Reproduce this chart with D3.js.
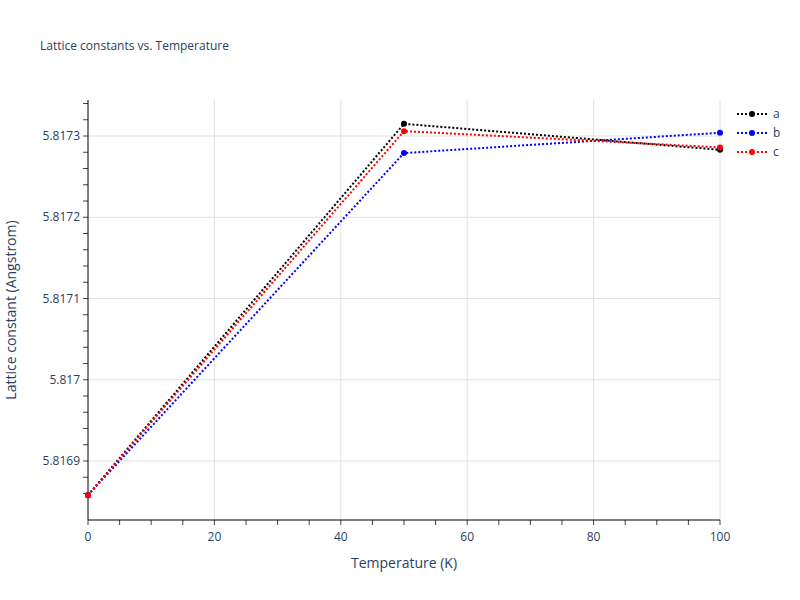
<!DOCTYPE html>
<html>
<head>
<meta charset="utf-8">
<script src="https://cdn.jsdelivr.net/npm/d3@7"></script>
<style>body{margin:0;background:#fff}text{font-family:"Open Sans",sans-serif}</style>
</head>
<body>
<svg width="800" height="600"></svg>
<script>
var temps = [0, 50, 100]
var seriesNames = ['a', 'b', 'c']
var seriesColors = ['black', 'blue', 'red']
var aVals = [5.816858, 5.817315, 5.817283]
var bVals = [5.816858, 5.817279, 5.817304]
var cVals = [5.816858, 5.817306, 5.817286]
var xTicks = [0, 20, 40, 60, 80, 100]
var yTicks = [5.8169, 5.817, 5.8171, 5.8172, 5.8173]
var yTickLabels = ['5.8169', '5.817', '5.8171', '5.8172', '5.8173']

var svg = d3.select('svg')
var pLeft = 88, pRight = 720, pTop = 100, pBottom = 520
var x = d3.scaleLinear().domain([0, 100]).range([pLeft, pRight])
var y = d3.scaleLinear().domain([5.8169, 5.8173]).range([461, 136])

var grid = svg.append('g')
grid.selectAll('.gy').data(yTicks).enter().append('line')
  .attr('x1', pLeft).attr('x2', pRight).attr('y1', d => y(d)).attr('y2', d => y(d))
  .attr('stroke', '#e0e0e0')
grid.selectAll('.gx').data(xTicks.slice(1)).enter().append('line')
  .attr('y1', pTop).attr('y2', pBottom).attr('x1', d => x(d)).attr('x2', d => x(d))
  .attr('stroke', '#e0e0e0')

// minor ticks
var xMinor = d3.range(0, 101, 5)
svg.append('g').selectAll('line').data(xMinor).enter().append('line')
  .attr('x1', d => x(d)).attr('x2', d => x(d)).attr('y1', pBottom).attr('y2', pBottom + 5)
  .attr('stroke', '#444')
var yMinor = d3.range(-2, 24).map(i => 5.8169 + i * 0.00002).filter(v => y(v) > pTop && y(v) < pBottom)
svg.append('g').selectAll('line').data(yMinor).enter().append('line')
  .attr('y1', d => y(d)).attr('y2', d => y(d)).attr('x1', pLeft - 5).attr('x2', pLeft)
  .attr('stroke', '#444')

svg.append('line').attr('x1', pLeft).attr('x2', pLeft).attr('y1', pTop).attr('y2', pBottom).attr('stroke', '#000')
svg.append('line').attr('x1', pLeft).attr('x2', pRight).attr('y1', pBottom).attr('y2', pBottom).attr('stroke', '#000')

svg.append('g').selectAll('text').data(xTicks).enter().append('text')
  .attr('x', d => x(d)).attr('y', pBottom + 21).attr('text-anchor', 'middle')
  .attr('font-size', 12).attr('fill', '#2a3f5f').text(d => d)
svg.append('g').selectAll('text').data(yTicks).enter().append('text')
  .attr('x', pLeft - 8).attr('y', d => y(d) + 4).attr('text-anchor', 'end')
  .attr('font-size', 12).attr('fill', '#2a3f5f').text((d, i) => yTickLabels[i])

svg.append('text').attr('x', 404).attr('y', 568).attr('text-anchor', 'middle')
  .attr('font-size', 14).attr('fill', '#2a3f5f').text('Temperature (K)')
svg.append('text').attr('transform', 'translate(16,310) rotate(-90)').attr('text-anchor', 'middle')
  .attr('font-size', 14).attr('fill', '#2a3f5f').text('Lattice constant (Angstrom)')
svg.append('text').attr('x', 40).attr('y', 50).attr('font-size', 12).attr('fill', '#2a3f5f')
  .text('Lattice constants vs. Temperature')

var allVals = [aVals, bVals, cVals]
var line = d3.line().x((d, i) => x(temps[i])).y(d => y(d))
allVals.forEach(function (vals, s) {
  var g = svg.append('g')
  g.append('path').attr('d', line(vals)).attr('fill', 'none')
    .attr('stroke', seriesColors[s]).attr('stroke-width', 2).attr('stroke-dasharray', '2,2')
  g.selectAll('circle').data(vals).enter().append('circle')
    .attr('cx', (d, i) => x(temps[i])).attr('cy', d => y(d)).attr('r', 3)
    .attr('fill', seriesColors[s])
})

var leg = svg.append('g')
seriesNames.forEach(function (n, i) {
  var ly = 114 + i * 19
  leg.append('line').attr('x1', 737).attr('x2', 767).attr('y1', ly).attr('y2', ly)
    .attr('stroke', seriesColors[i]).attr('stroke-width', 2).attr('stroke-dasharray', '2,2')
  leg.append('circle').attr('cx', 752).attr('cy', ly).attr('r', 3).attr('fill', seriesColors[i])
  leg.append('text').attr('x', 773).attr('y', ly + 4).attr('font-size', 12).attr('fill', '#2a3f5f').text(n)
})
</script>
</body>
</html>
